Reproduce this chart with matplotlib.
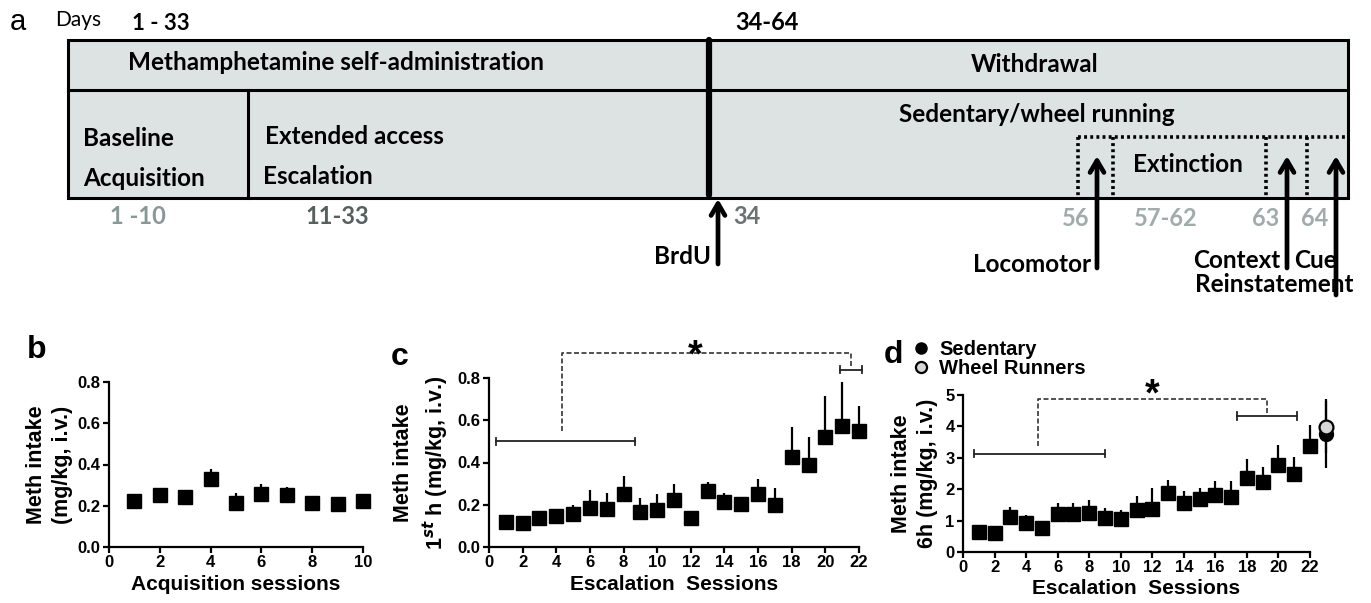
import numpy as np
import matplotlib
matplotlib.use('Agg')
import matplotlib.pyplot as plt
from matplotlib.patches import Rectangle
from matplotlib.lines import Line2D

plt.rcParams['font.family'] = ['Liberation Sans', 'DejaVu Sans']
plt.rcParams['font.weight'] = 'bold'
plt.rcParams['axes.labelweight'] = 'bold'
plt.rcParams['mathtext.fontset'] = 'custom'
plt.rcParams['mathtext.rm'] = 'Liberation Sans:bold'
plt.rcParams['mathtext.bf'] = 'Liberation Sans:bold'

# ---- data ----
acq_sessions = np.arange(1, 11)
acq_mean = [0.221, 0.254, 0.242, 0.328, 0.213, 0.255, 0.254, 0.215, 0.210, 0.223]
acq_sem = [0.005, 0.029, 0.036, 0.052, 0.050, 0.049, 0.036, 0.027, 0.024, 0.035]

esc_sessions = np.arange(1, 23)
first_h_mean = [0.119, 0.114, 0.135, 0.146, 0.155, 0.185, 0.179, 0.249, 0.166, 0.177, 0.222,
                0.139, 0.266, 0.214, 0.203, 0.250, 0.201, 0.428, 0.388, 0.520, 0.573, 0.550]
first_h_sem = [0.031, 0.006, 0.005, 0.028, 0.045, 0.085, 0.078, 0.088, 0.067, 0.073, 0.078,
               0.000, 0.044, 0.043, 0.027, 0.070, 0.076, 0.142, 0.132, 0.193, 0.207, 0.118]

six_h_mean = [0.64, 0.59, 1.10, 0.91, 0.78, 1.20, 1.20, 1.25, 1.07, 1.04, 1.34,
              1.37, 1.87, 1.57, 1.69, 1.82, 1.76, 2.37, 2.24, 2.76, 2.48, 3.36]
six_h_sem = [0.21, 0.00, 0.34, 0.26, 0.18, 0.37, 0.35, 0.41, 0.32, 0.30, 0.44,
             0.66, 0.43, 0.38, 0.35, 0.44, 0.50, 0.59, 0.48, 0.66, 0.56, 0.70]

test_session = 23
sed_mean, sed_sem = 3.77, 1.10
wheel_mean, wheel_sem = 3.98, 0.82

fig = plt.figure(figsize=(13.71, 6.03), dpi=100)

# ---- panel a: schematic (pixel layout) ----
ax0 = fig.add_axes([0, 0, 1, 1])
ax0.set_xlim(0, 1371)
ax0.set_ylim(603, 0)
ax0.axis('off')

lato = ['Lato', 'DejaVu Sans']
ax0.add_patch(Rectangle((68, 40), 1280, 158, facecolor='#dde3e3', edgecolor='black', lw=2.2))
ax0.plot([68, 1348], [90, 90], color='k', lw=2.2)
ax0.plot([248, 248], [90, 198], color='k', lw=2.2)
ax0.plot([709, 709], [40, 195], color='k', lw=4.5, solid_capstyle='round')

dot = (0, (0.8, 0.9))
ax0.plot([1078, 1348], [137, 137], color='k', lw=2.6, ls=dot)
for xv in [1078, 1113, 1266, 1307]:
    ax0.plot([xv, xv], [137, 198], color='k', lw=2.6, ls=dot)


def up_arrow(x, y0, y1):
    ax0.annotate('', xy=(x, y1), xytext=(x, y0),
                 arrowprops=dict(arrowstyle='->,head_length=0.85,head_width=0.5',
                                 lw=3.4, color='k', shrinkA=0, shrinkB=0))


up_arrow(718, 264, 199)
up_arrow(1097, 268, 156)
up_arrow(1287, 268, 156)
up_arrow(1336, 295, 156)

ax0.text(18, 22, 'a', fontsize=21, fontweight='normal', ha='center', va='center')
ax0.text(55, 20, 'Days', fontsize=15, family=lato, fontweight='normal', va='center')
ax0.text(132, 23, '1 - 33', fontsize=16, family=lato, va='center')
ax0.text(767, 23, '34-64', fontsize=17, family=lato, ha='center', va='center')

big = dict(fontsize=17.5, family=lato, va='center')
ax0.text(336, 63, 'Methamphetamine self-administration', ha='center', **big)
ax0.text(1035, 64, 'Withdrawal', ha='center', **big)
ax0.text(1037, 115, 'Sedentary/wheel running', ha='center', **big)
ax0.text(83, 139, 'Baseline', **big)
ax0.text(83, 178, 'Acquisition', **big)
ax0.text(265, 137, 'Extended access', **big)
ax0.text(263, 177, 'Escalation', **big)
ax0.text(1188, 165, 'Extinction', ha='center', **big)

num = dict(fontsize=17, family=lato, va='center')
ax0.text(138, 217, '1 -10', color='#8a9797', ha='center', **num)
ax0.text(337, 217, '11-33', color='#56615f', ha='center', **num)
ax0.text(733, 217, '34', color='#6a7272', ha='left', **num)
for lbl, xc in [('56', 1076), ('57-62', 1166), ('63', 1266), ('64', 1315)]:
    ax0.text(xc, 218, lbl, color='#a2abab', ha='center', **num)

ax0.text(711, 256, 'BrdU', ha='right', **big)
ax0.text(1091, 264, 'Locomotor', ha='right', **big)
ax0.text(1280, 260, 'Context', ha='right', **big)
ax0.text(1294, 260, 'Cue', ha='left', **big)
ax0.text(1274, 284, 'Reinstatement', ha='center', **big)


# ---- panels b-d ----
def style(ax):
    for s in ['top', 'right']:
        ax.spines[s].set_visible(False)
    for s in ['left', 'bottom']:
        ax.spines[s].set_linewidth(1.6)
    ax.tick_params(width=1.6, length=4, labelsize=12, pad=2)


def bracket(ax, x0, x1, y, h):
    ax.plot([x0, x1], [y, y], color='#222222', lw=1.3, clip_on=False)
    ax.plot([x0, x0], [y - h, y + h], color='#222222', lw=1.3, clip_on=False)
    ax.plot([x1, x1], [y - h, y + h], color='#222222', lw=1.3, clip_on=False)


W, H = 1371.0, 603.0
axb = fig.add_axes([109 / W, 1 - 547 / H, 254 / W, 165 / H])
axc = fig.add_axes([489 / W, 1 - 547 / H, 370 / W, 169 / H])
axd = fig.add_axes([963 / W, 1 - 552 / H, 347 / W, 157 / H])

xlab = 15
ylab = 15.5
eb = dict(color='k', ms=9.5, elinewidth=1.6, capsize=0, clip_on=False)

# b
axb.errorbar(acq_sessions, acq_mean, yerr=[np.zeros(10), acq_sem], fmt='s', **eb)
axb.set_xlim(0, 10)
axb.set_ylim(0, 0.8)
axb.set_xticks(np.arange(0, 11, 2))
axb.set_yticks(np.arange(0, 0.81, 0.2))
axb.set_xlabel('Acquisition sessions', fontsize=xlab, labelpad=3)
axb.set_ylabel('Meth intake\n(mg/kg, i.v.)', fontsize=ylab, linespacing=1.3)
axb.yaxis.set_label_coords(-0.143, 0.5)
style(axb)
fig.text(37 / W, 1 - 350 / H, 'b', fontsize=23, ha='center', va='center')

# c
axc.errorbar(esc_sessions, first_h_mean, yerr=[np.zeros(22), first_h_sem], fmt='s', **eb)
axc.set_xlim(0, 22)
axc.set_ylim(0, 0.8)
axc.set_xticks(np.arange(0, 23, 2))
axc.set_yticks(np.arange(0, 0.81, 0.2))
axc.set_xlabel('Escalation  Sessions', fontsize=xlab, labelpad=3)
axc.set_ylabel('Meth intake\n1$^{st}$ h (mg/kg, i.v.)', fontsize=ylab, linespacing=1.3)
axc.yaxis.set_label_coords(-0.103, 0.5)
style(axc)
bracket(axc, 0.4, 8.7, 0.50, 0.018)
bracket(axc, 20.9, 22.2, 0.84, 0.018)
axc.plot([4.35, 4.35, 21.5, 21.5], [0.55, 0.92, 0.92, 0.845], color='#333333', lw=1.2,
         ls=(0, (3, 1.5)), clip_on=False)
axc.text(12.25, 0.9, '*', fontsize=27, ha='center', va='center')
fig.text(400 / W, 1 - 357 / H, 'c', fontsize=23, ha='center', va='center')

# d
axd.errorbar(esc_sessions, six_h_mean, yerr=[np.zeros(22), six_h_sem], fmt='s', **eb)
axd.errorbar([test_session], [sed_mean], yerr=[[sed_sem], [sed_sem]], fmt='o',
             color='k', ms=10, elinewidth=1.6, capsize=0, clip_on=False)
axd.errorbar([test_session], [wheel_mean], yerr=[[wheel_sem], [wheel_sem]], fmt='o',
             color='k', mfc='#d6d6d6', mec='k', mew=1.6, ms=10, elinewidth=1.6, capsize=0,
             clip_on=False)
axd.set_xlim(0, 22)
axd.set_ylim(0, 5)
axd.set_xticks(np.arange(0, 23, 2))
axd.set_yticks(np.arange(0, 6, 1))
axd.set_xlabel('Escalation  Sessions', fontsize=xlab, labelpad=3)
axd.set_ylabel('Meth intake\n6h (mg/kg, i.v.)', fontsize=ylab, linespacing=1.3)
axd.yaxis.set_label_coords(-0.072, 0.5)
style(axd)
bracket(axd, 0.72, 9.03, 3.13, 0.12)
bracket(axd, 17.35, 21.2, 4.33, 0.12)
axd.plot([4.76, 4.76, 19.25, 19.25], [3.36, 4.88, 4.88, 4.41], color='#333333', lw=1.2,
         ls=(0, (3, 1.5)), clip_on=False)
axd.text(11.98, 4.98, '*', fontsize=27, ha='center', va='center')
fig.text(893 / W, 1 - 355 / H, 'd', fontsize=23, ha='center', va='center')

handles = [Line2D([], [], marker='o', ls='none', mfc='k', mec='k', ms=8),
           Line2D([], [], marker='o', ls='none', mfc='#d6d6d6', mec='k', mew=1.6, ms=8)]
fig.legend(handles, ['Sedentary', 'Wheel Runners'], loc='upper left',
           bbox_to_anchor=(915 / W, 1 - 340 / H), frameon=False, fontsize=14.5,
           handlelength=0.6, handletextpad=0.6, labelspacing=0.0, borderpad=0, borderaxespad=0)

fig.savefig('out.png', dpi=100)
